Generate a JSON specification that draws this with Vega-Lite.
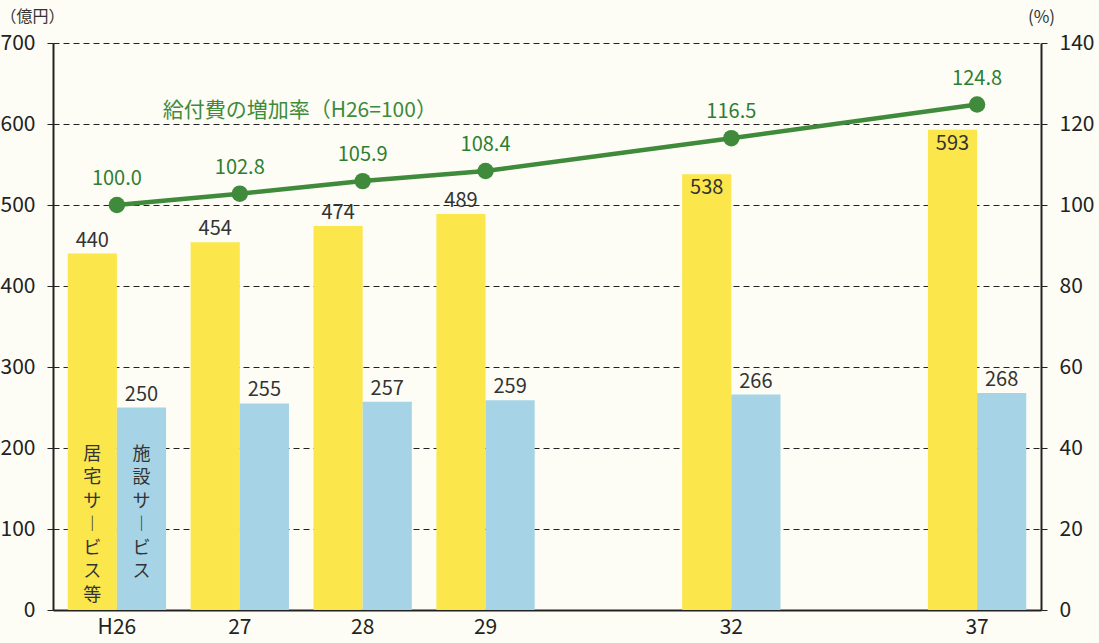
{
  "$schema": "https://vega.github.io/schema/vega-lite/v6.json",
  "autosize": {"type": "none"},
  "width": 988,
  "height": 567,
  "padding": {"left": 53, "top": 43, "right": 58, "bottom": 33},
  "background": "#fdfdf5",
  "config": {
    "view": {"stroke": null},
    "font": "Liberation Sans Narrow, Noto Sans CJK JP, sans-serif",
    "axis": {"gridOpacity": 1}
  },
  "datasets": {
    "bars": [
      {"year": "H26", "series": "居宅サービス等", "v": 440},
      {"year": "H26", "series": "施設サービス", "v": 250},
      {"year": "27", "series": "居宅サービス等", "v": 454},
      {"year": "27", "series": "施設サービス", "v": 255},
      {"year": "28", "series": "居宅サービス等", "v": 474},
      {"year": "28", "series": "施設サービス", "v": 257},
      {"year": "29", "series": "居宅サービス等", "v": 489},
      {"year": "29", "series": "施設サービス", "v": 259},
      {"year": "32", "series": "居宅サービス等", "v": 538},
      {"year": "32", "series": "施設サービス", "v": 266},
      {"year": "37", "series": "居宅サービス等", "v": 593},
      {"year": "37", "series": "施設サービス", "v": 268}
    ],
    "rate": [
      {"year": "H26", "r": 100.0},
      {"year": "27", "r": 102.8},
      {"year": "28", "r": 105.9},
      {"year": "29", "r": 108.4},
      {"year": "32", "r": 116.5},
      {"year": "37", "r": 124.8}
    ],
    "vlabels": [
      {"year": "H26", "series": "居宅サービス等", "t": "居\n宅\nサ\n︱\nビ\nス\n等"},
      {"year": "H26", "series": "施設サービス", "t": "施\n設\nサ\n︱\nビ\nス"}
    ]
  },
  "layer": [
    {
      "layer": [
        {
          "data": {"name": "bars"},
          "mark": {"type": "bar"},
          "encoding": {
            "x": {
              "field": "year", "type": "nominal",
              "scale": {"domain": ["H26", "27", "28", "29", "g1", "32", "g2", "37"], "paddingInner": 0.2, "paddingOuter": 0.12},
              "axis": {
                "title": null, "labelAngle": 0, "ticks": false,
                "labelExpr": "indexof(datum.value, 'g') === 0 ? '' : datum.value",
                "labelFontSize": 21, "labelColor": "#222", "labelPadding": 6,
                "domainColor": "#222", "domainWidth": 2
              }
            },
            "xOffset": {"field": "series", "type": "nominal", "scale": {"domain": ["居宅サービス等", "施設サービス"]}},
            "y": {
              "field": "v", "type": "quantitative",
              "scale": {"domain": [0, 700]},
              "axis": {
                "title": "（億円）", "titleAngle": 0, "titleX": -53, "titleY": -19,
                "titleAlign": "left", "titleBaseline": "bottom", "titleFontSize": 16, "titleFontWeight": "normal", "titleColor": "#333",
                "titleFont": "Noto Sans CJK JP",
                "values": [0, 100, 200, 300, 400, 500, 600, 700],
                "labelFontSize": 21, "labelColor": "#222", "labelPadding": 12,
                "tickSize": 6, "tickColor": "#222",
                "domainColor": "#222", "domainWidth": 2,
                "grid": true, "gridColor": "#222", "gridDash": [6, 4], "gridWidth": 1.2
              }
            },
            "color": {
              "field": "series", "type": "nominal",
              "scale": {"domain": ["居宅サービス等", "施設サービス"], "range": ["#fbe64c", "#a6d3e6"]},
              "legend": null
            }
          }
        },
        {
          "data": {"name": "bars"},
          "transform": [{"filter": "datum.v < 500 || datum.series === '施設サービス'"}],
          "mark": {"type": "text", "baseline": "bottom", "dy": -3, "fontSize": 20, "color": "#333"},
          "encoding": {
            "x": {"field": "year", "type": "nominal"},
            "xOffset": {"field": "series", "type": "nominal"},
            "y": {"field": "v", "type": "quantitative"},
            "text": {"field": "v", "type": "quantitative"}
          }
        },
        {
          "data": {"name": "bars"},
          "transform": [{"filter": "datum.v >= 500 && datum.series === '居宅サービス等'"}],
          "mark": {"type": "text", "baseline": "top", "dy": 4, "fontSize": 20, "color": "#333"},
          "encoding": {
            "x": {"field": "year", "type": "nominal"},
            "xOffset": {"field": "series", "type": "nominal"},
            "y": {"field": "v", "type": "quantitative"},
            "text": {"field": "v", "type": "quantitative"}
          }
        },
        {
          "data": {"name": "vlabels"},
          "mark": {"type": "text", "baseline": "top", "lineBreak": "\n", "lineHeight": 23.5, "fontSize": 18, "font": "Noto Sans CJK JP", "color": "#333"},
          "encoding": {
            "x": {"field": "year", "type": "nominal"},
            "xOffset": {"field": "series", "type": "nominal"},
            "y": {"datum": 203, "type": "quantitative"},
            "text": {"field": "t", "type": "nominal"}
          }
        }
      ]
    },
    {
      "layer": [
        {
          "data": {"name": "rate"},
          "mark": {"type": "line", "color": "#3f8a3b", "strokeWidth": 4.5},
          "encoding": {
            "x": {"field": "year", "type": "nominal"},
            "y": {
              "field": "r", "type": "quantitative",
              "scale": {"domain": [0, 140]},
              "axis": {
                "orient": "right",
                "title": "(%)", "titleAngle": 0, "titleX": 0, "titleY": -17,
                "titleAlign": "center", "titleBaseline": "bottom", "titleFontSize": 17, "titleFontWeight": "normal", "titleColor": "#333",
                "values": [0, 20, 40, 60, 80, 100, 120, 140],
                "labelFontSize": 21, "labelColor": "#222", "labelPadding": 12,
                "tickSize": 6, "tickColor": "#222",
                "domainColor": "#222", "domainWidth": 2, "grid": false
              }
            }
          }
        },
        {
          "data": {"name": "rate"},
          "mark": {"type": "point", "filled": true, "size": 270, "color": "#3f8a3b", "opacity": 1},
          "encoding": {
            "x": {"field": "year", "type": "nominal"},
            "y": {"field": "r", "type": "quantitative"}
          }
        },
        {
          "data": {"name": "rate"},
          "mark": {"type": "text", "baseline": "bottom", "dy": -16, "fontSize": 20, "color": "#2e7d32"},
          "encoding": {
            "x": {"field": "year", "type": "nominal"},
            "y": {"field": "r", "type": "quantitative"},
            "text": {"field": "r", "type": "quantitative", "format": ".1f"}
          }
        },
        {
          "data": {"values": [{"t": "給付費の増加率（H26=100）"}]},
          "mark": {"type": "text", "align": "center", "baseline": "middle", "dx": 60, "fontSize": 21, "font": "Noto Sans CJK JP", "color": "#3f8a3b"},
          "encoding": {
            "x": {"datum": "27", "type": "nominal"},
            "y": {"datum": 123.2, "type": "quantitative"},
            "text": {"field": "t", "type": "nominal"}
          }
        }
      ]
    }
  ],
  "resolve": {"scale": {"y": "independent"}}
}
